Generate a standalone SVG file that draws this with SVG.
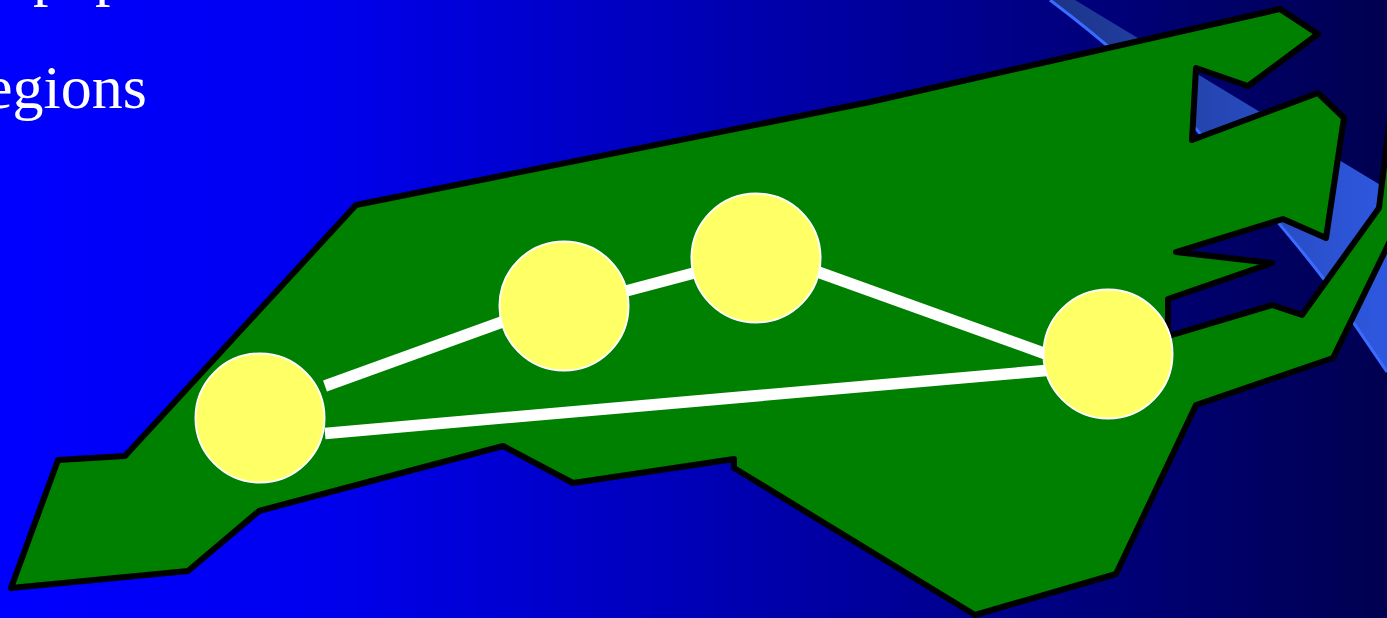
<svg xmlns="http://www.w3.org/2000/svg" width="1387" height="618" viewBox="0 0 1387 618">
<style>
.t{font-family:"Liberation Serif","Times New Roman",serif;font-size:62px;fill:#fff}
.c{fill:#ffff66;stroke:#fff;stroke-width:2}
.l{stroke:#fff;stroke-width:11.500;fill:none}
</style>
<defs>
<linearGradient id="bg" gradientUnits="userSpaceOnUse" x1="0" y1="0" x2="1387" y2="0">
<stop offset="0" stop-color="#0000ff"/><stop offset="0.22" stop-color="#0000f0"/><stop offset="1" stop-color="#000050"/>
</linearGradient>
<linearGradient id="band" gradientUnits="userSpaceOnUse" x1="1050" y1="0" x2="1387" y2="0">
<stop offset="0" stop-color="#1c3488"/><stop offset="1" stop-color="#2e58e0"/>
</linearGradient>
</defs>
<rect width="1387" height="618" fill="url(#bg)"/>
<path d="M1075 0L1387 189V372L1323 278Q1280 222 1197 130Q1130 60 1050 0Z" fill="url(#band)"/>
<path d="M1387 372L1323 278Q1280 222 1197 130Q1130 60 1050 0" fill="none" stroke="#3a6cff" stroke-width="3"/>
<text class="t" x="33" y="-6">pop</text>
<text class="t" x="-15" y="108">egions</text>
<g id="state"><path d="M11 588L58 460L125 456L356 205L870 102L1280 9L1318 34L1248 86L1196 68L1192 140L1318 93L1344 118L1326 238L1283 219L1176 252L1272 263L1168 299L1168 336L1272 305L1302 315L1379 208L1392 100L1410 200L1333 358L1196 405L1116 574L975 615L734 468L734 459L573 483L503 446L259 511L188 571Z" fill="#008000" stroke="#000" stroke-width="6" stroke-linejoin="round"/></g>
<g id="connectors">
<path class="l" d="M325 386L502 322"/>
<path class="l" d="M626 291L694 273"/>
<path class="l" d="M818 272L1046 354"/>
<path class="l" d="M325 433.500L1046 370.500"/>
</g>
<g id="n1"><circle class="c" cx="260" cy="418" r="64.500"/></g>
<g id="n2"><circle class="c" cx="564" cy="306" r="64.500"/></g>
<g id="n3"><circle class="c" cx="756" cy="258" r="64.500"/></g>
<g id="n4"><circle class="c" cx="1108" cy="354" r="64.500"/></g>
</svg>
